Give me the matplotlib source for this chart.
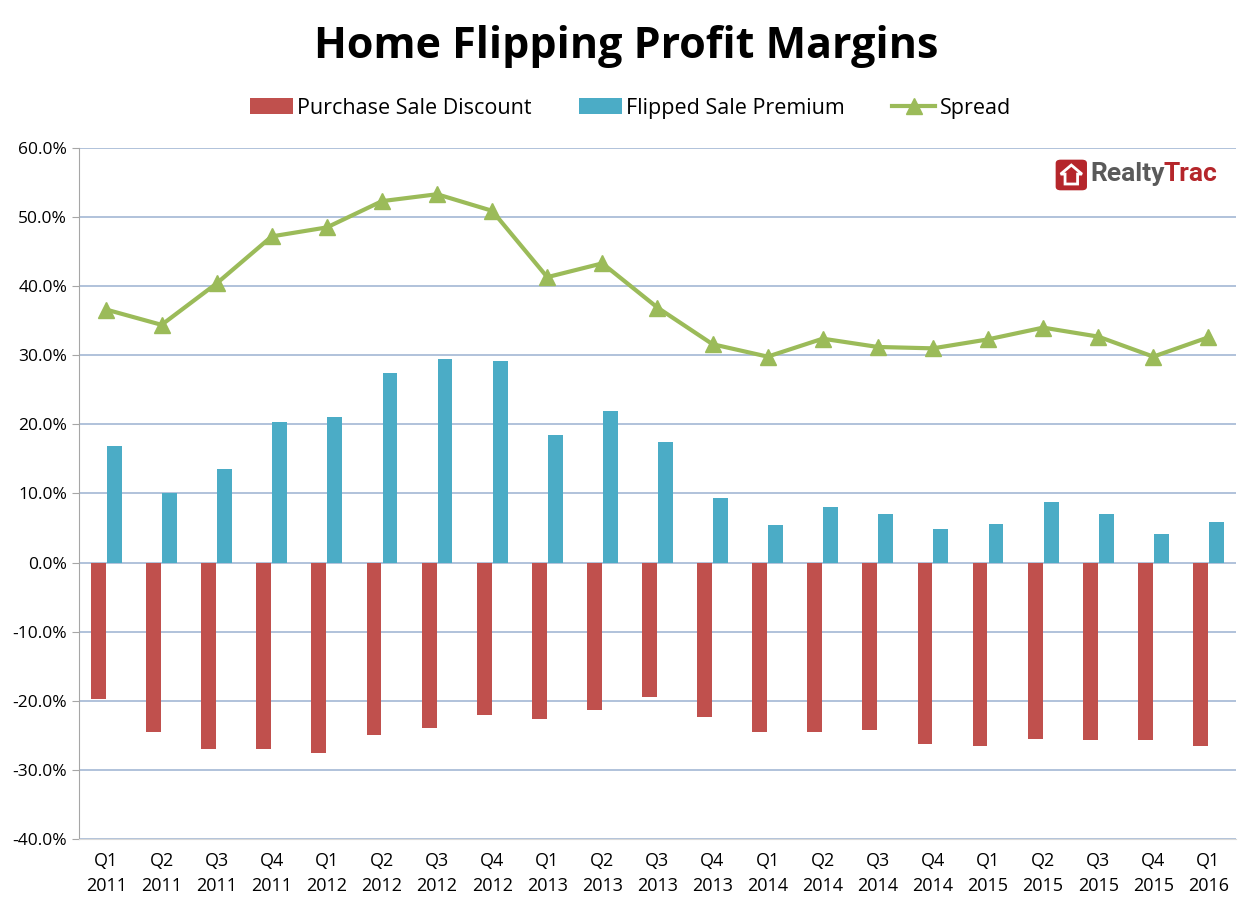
import matplotlib
matplotlib.use("Agg")
import matplotlib.pyplot as plt
import numpy as np
from matplotlib.patches import FancyBboxPatch, Polygon

quarters = ["Q1", "Q2", "Q3", "Q4", "Q1", "Q2", "Q3", "Q4", "Q1", "Q2", "Q3", "Q4",
            "Q1", "Q2", "Q3", "Q4", "Q1", "Q2", "Q3", "Q4", "Q1"]
years = ["2011"] * 4 + ["2012"] * 4 + ["2013"] * 4 + ["2014"] * 4 + ["2015"] * 4 + ["2016"]
labels = [f"{q}\n{y}" for q, y in zip(quarters, years)]

purchase_discount = [-19.7, -24.5, -26.9, -26.9, -27.6, -25.0, -23.9, -22.0, -22.7, -21.4, -19.4,
                     -22.4, -24.5, -24.5, -24.2, -26.2, -26.6, -25.5, -25.6, -25.6, -26.6]
flipped_premium = [16.9, 10.0, 13.5, 20.4, 21.0, 27.4, 29.5, 29.1, 18.5, 22.0, 17.5,
                   9.4, 5.4, 8.0, 7.1, 4.8, 5.6, 8.7, 7.1, 4.2, 5.9]
spread = [36.6, 34.4, 40.4, 47.2, 48.5, 52.3, 53.3, 50.9, 41.3, 43.3, 36.9,
          31.6, 29.8, 32.4, 31.2, 31.0, 32.3, 34.0, 32.7, 29.8, 32.6]

RED = "#C0504D"
BLUE = "#4BACC6"
GREEN = "#9BBB59"

plt.rcParams['font.family'] = ['Open Sans', 'DejaVu Sans']

fig = plt.figure(figsize=(12.53, 9.02), dpi=100)
ax = fig.add_axes([0.063, 0.0698, 0.9234, 0.7662])

x = np.arange(len(labels))
w = 0.27
b1 = ax.bar(x - w / 2 - 0.01, purchase_discount, width=w, color=RED, label="Purchase Sale Discount", zorder=2)
b2 = ax.bar(x + w / 2 + 0.01, flipped_premium, width=w, color=BLUE, label="Flipped Sale Premium", zorder=2)
l1, = ax.plot(x, spread, color=GREEN, lw=3, marker="^", markersize=11, label="Spread", zorder=3)

ax.set_xlim(-0.5, len(labels) - 0.5)
ax.set_ylim(-40, 60)
ax.set_yticks(np.arange(-40, 61, 10))
ax.set_yticklabels([f"{v:.1f}%" for v in np.arange(-40, 61, 10)])
ax.set_xticks(x)
ax.set_xticklabels(labels, linespacing=1.55)
ax.yaxis.grid(True, color="#A3B8D4", lw=1.2, zorder=0)
ax.set_axisbelow(True)
for s in ["top", "right"]:
    ax.spines[s].set_visible(False)
ax.spines["left"].set_color("#A6A6A6")
ax.spines["bottom"].set_color("#D9D9D9")
ax.tick_params(axis="x", length=0, labelsize=13, pad=9)
ax.tick_params(axis="y", length=5, color="#A6A6A6", labelsize=12.5)

fig.text(0.5, 0.948, "Home Flipping Profit Margins", ha="center", va="center",
         fontsize=31, fontweight="bold")

leg = fig.legend([b1, b2, l1], ["Purchase Sale Discount", "Flipped Sale Premium", "Spread"],
                 loc="center", bbox_to_anchor=(0.503, 0.880), ncol=3, frameon=False,
                 fontsize=15.5, handlelength=2.0, handleheight=0.8, columnspacing=2.2, handletextpad=0.2)

# RealtyTrac logo
lx, ly = 0.8445, 0.791
logo_box = FancyBboxPatch((lx, ly), 0.021, 0.030, boxstyle="round,pad=0.002,rounding_size=0.004",
                          transform=fig.transFigure, facecolor="#B5262B", edgecolor="none")
fig.patches.append(logo_box)
house = Polygon([[lx + 0.0105, ly + 0.026], [lx + 0.019, ly + 0.016], [lx + 0.0155, ly + 0.016],
                 [lx + 0.0155, ly + 0.005], [lx + 0.0055, ly + 0.005], [lx + 0.0055, ly + 0.016],
                 [lx + 0.002, ly + 0.016]], closed=True, transform=fig.transFigure,
                facecolor="none", edgecolor="white", lw=2)
fig.patches.append(house)
t1 = fig.text(lx + 0.026, ly + 0.016, "Realty", fontsize=19, fontweight="bold", color="#5A5A5A",
              va="center", ha="left", family=["Roboto", "DejaVu Sans"])
fig.canvas.draw()
bb = t1.get_window_extent().transformed(fig.transFigure.inverted())
fig.text(bb.x1 - 0.001, ly + 0.016, "Trac", fontsize=19, fontweight="bold", color="#B5262B",
         va="center", ha="left", family=["Roboto", "DejaVu Sans"])

fig.savefig("out.png", dpi=100, facecolor="white")
